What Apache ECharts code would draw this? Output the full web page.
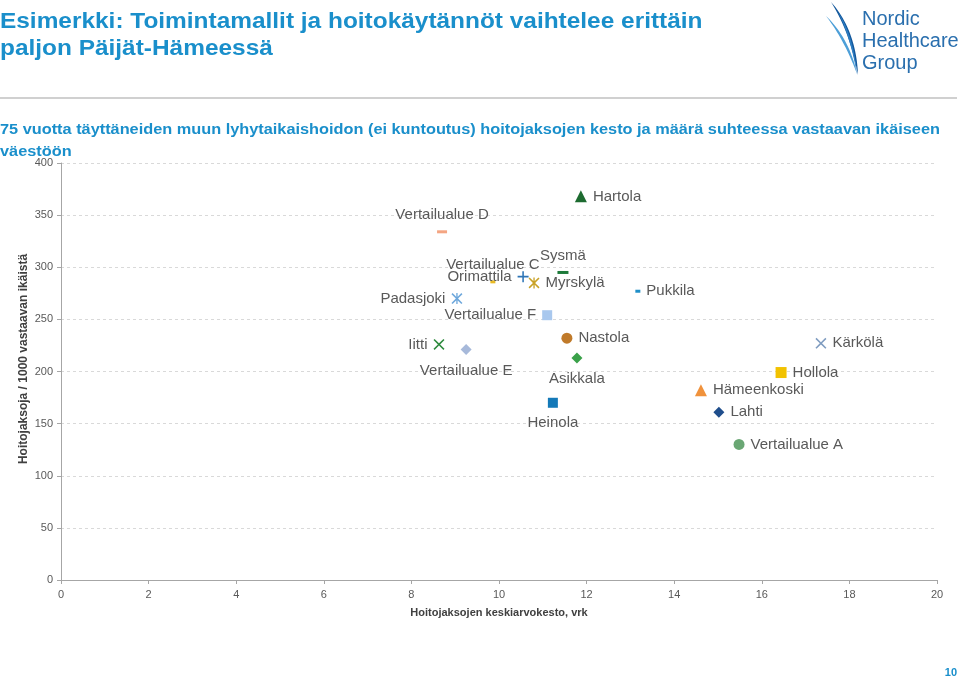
<!DOCTYPE html>
<html><head><meta charset="utf-8">
<script src="https://cdn.jsdelivr.net/npm/echarts@6/dist/echarts.min.js"></script>
<style>html,body{margin:0;padding:0;background:#fff}#c{width:960px;height:678px}</style>
</head><body><div id="c"></div>
<script>
// ---- data ----
const names = ['Hartola','Vertailualue D','Vertailualue C','Sysmä','Orimattila','Myrskylä','Pukkila','Padasjoki','Vertailualue F','Nastola','Iitti','Vertailualue E','Asikkala','Heinola','Kärkölä','Hollola','Hämeenkoski','Lahti','Vertailualue A'];
const avgStay = [11.87, 8.70, 9.86, 11.46, 10.55, 10.80, 13.17, 9.04, 11.10, 11.55, 8.63, 9.25, 11.78, 11.23, 17.35, 16.44, 14.61, 15.02, 15.48];
const episodesPer1000 = [368, 334, 286, 295, 291, 285, 277, 270, 254, 232, 226, 221, 213, 170, 227, 199, 182, 161, 130];
const xTickMax = 20, xTickStep = 2;
const yTickMax = 400, yTickStep = 50;

// ---- styles (not data) ----
const PX = 'path://M4.3,0H5.7V4.3H10V5.7H5.7V10H4.3V5.7H0V4.3H4.3Z';
const XX = 'path://M0,1L1,0L5,4L9,0L10,1L6,5L10,9L9,10L5,6L1,10L0,9L4,5Z';
const AST = 'path://M0,1L1,0L5,4L9,0L10,1L6,5L10,9L9,10L5,6L1,10L0,9L4,5Z M4.4,0H5.6V10H4.4Z';
const styles = [
  {s:'triangle', z:12, c:'#1d6b30', p:'right'},
  {s:'rect', z:[10,3], c:'#f4a582', p:'top'},
  {s:'rect', z:[5,3], c:'#e8b923', p:'top'},
  {s:'rect', z:[11,3], c:'#1d7a3a', p:'top'},
  {s:PX, z:11, c:'#2e75b6', p:'left'},
  {s:AST, z:11, c:'#c9a227', p:'right'},
  {s:'rect', z:[5,3], c:'#1f8fc8', p:'right'},
  {s:AST, z:11, c:'#6fa8dc', p:'left'},
  {s:'rect', z:10, c:'#a9c8ee', p:'left'},
  {s:'circle', z:11, c:'#c07a2a', p:'right'},
  {s:XX, z:11, c:'#2e8b3e', p:'left'},
  {s:'diamond', z:11, c:'#a7b9da', p:'bottom'},
  {s:'diamond', z:11, c:'#3aa14a', p:'bottom'},
  {s:'rect', z:10, c:'#1479b8', p:'bottom'},
  {s:XX, z:11, c:'#7f9cc0', p:'right'},
  {s:'rect', z:11, c:'#f2c200', p:'right'},
  {s:'triangle', z:12, c:'#f0923c', p:'right'},
  {s:'diamond', z:11, c:'#1f4e8c', p:'right'},
  {s:'circle', z:11, c:'#6aa774', p:'right'}
];

const points = names.map((n, i) => ({
  name: n,
  value: [avgStay[i], episodesPer1000[i]],
  symbol: styles[i].s,
  symbolSize: styles[i].z,
  itemStyle: {color: styles[i].c, opacity: 1},
  label: {show: true, position: styles[i].p, formatter: n, distance: (styles[i].p==='top'||styles[i].p==='bottom') ? 8 : 6}
}));

// logo blade shape (decoration)
function blade(a, b, n) {
  const bez = (p, t) => {
    const u = 1 - t;
    return [u*u*u*p[0] + 3*u*u*t*p[2] + 3*u*t*t*p[4] + t*t*t*p[6],
            u*u*u*p[1] + 3*u*u*t*p[3] + 3*u*t*t*p[5] + t*t*t*p[7]];
  };
  const pts = [];
  for (let i = 0; i <= n; i++) pts.push(bez(a, i / n));
  for (let i = n; i >= 0; i--) pts.push(bez(b, i / n));
  return pts;
}

const FONT = '"Liberation Sans", Arial, sans-serif';
const BLUE = '#1a8fcb';
const LOGO = '#2a6fae';
const chart = echarts.init(document.getElementById('c'), null, {renderer: 'canvas'});
chart.setOption({
  animation: false,
  backgroundColor: '#fff',
  grid: {left: 61, right: 23, top: 163, bottom: 98, containLabel: false},
  xAxis: {
    type: 'value', min: 0, max: xTickMax, interval: xTickStep,
    name: 'Hoitojaksojen keskiarvokesto, vrk', nameLocation: 'middle', nameGap: 27,
    nameTextStyle: {fontFamily: FONT, fontSize: 11, fontWeight: 'bold', color: '#404040'},
    axisLine: {lineStyle: {color: '#a6a6a6', width: 1}},
    axisTick: {show: true, length: 4, lineStyle: {color: '#a6a6a6'}},
    axisLabel: {fontFamily: FONT, fontSize: 11, color: '#595959', margin: 9},
    splitLine: {show: false}
  },
  yAxis: {
    type: 'value', min: 0, max: yTickMax, interval: yTickStep,
    axisLine: {show: true, lineStyle: {color: '#a6a6a6', width: 1}},
    axisTick: {show: true, length: 4, lineStyle: {color: '#a6a6a6'}},
    axisLabel: {fontFamily: FONT, fontSize: 11, color: '#595959', margin: 8},
    splitLine: {show: true, lineStyle: {color: '#d9d9d9', type: [3, 3]}}
  },
  series: [{
    type: 'scatter',
    data: points,
    label: {fontFamily: FONT, fontSize: 15, color: '#595959'},
    emphasis: {disabled: true}
  }],
  graphic: [
    {type: 'text', x: 0, y: 8, scaleX: 1.11, style: {text: 'Esimerkki: Toimintamallit ja hoitokäytännöt vaihtelee erittäin\npaljon Päijät-Hämeessä', font: 'bold 22px ' + FONT, fill: BLUE, lineHeight: 27, verticalAlign: 'top'}},
    {type: 'rect', shape: {x: 0, y: 97, width: 957, height: 2}, style: {fill: '#d0d0d0'}},
    {type: 'text', x: 0, y: 119, scaleX: 1.165, style: {text: '75 vuotta täyttäneiden muun lyhytaikaishoidon (ei kuntoutus) hoitojaksojen kesto ja määrä suhteessa vastaavan ikäiseen\nväestöön', font: 'bold 14px ' + FONT, fill: BLUE, lineHeight: 22, verticalAlign: 'top'}},
    {type: 'text', x: 24, y: 359, rotation: Math.PI / 2, style: {text: 'Hoitojaksoja / 1000 vastaavan ikäistä', font: 'bold 12px ' + FONT, fill: '#404040', align: 'center', verticalAlign: 'middle'}},
    {type: 'text', x: 957, y: 673, style: {text: '10', font: 'bold 11px ' + FONT, fill: BLUE, align: 'right', verticalAlign: 'middle'}},
    // logo swoosh
    {type: 'polygon', shape: {points: blade([831,2, 849,22, 857,48, 858,75], [831,2, 846,26, 853,50, 858,75], 24)}, style: {fill: '#14589c'}},
    {type: 'polygon', shape: {points: blade([826,16, 843,32, 853,54, 857,74], [826,16, 840,34, 850,55, 857,74], 24)}, style: {fill: '#4d9fd8'}},
    {type: 'polygon', shape: {points: blade([838,12, 850,30, 855,52, 857,74], [838,12, 848,32, 853,53, 857,74], 24)}, style: {fill: '#2d7dc2'}},
    {type: 'text', x: 862, y: 19, style: {text: 'Nordic', font: '20px ' + FONT, fill: LOGO, verticalAlign: 'middle'}},
    {type: 'text', x: 862, y: 41, style: {text: 'Healthcare', font: '20px ' + FONT, fill: LOGO, verticalAlign: 'middle'}},
    {type: 'text', x: 862, y: 63, style: {text: 'Group', font: '20px ' + FONT, fill: LOGO, verticalAlign: 'middle'}}
  ]
});
</script></body></html>
